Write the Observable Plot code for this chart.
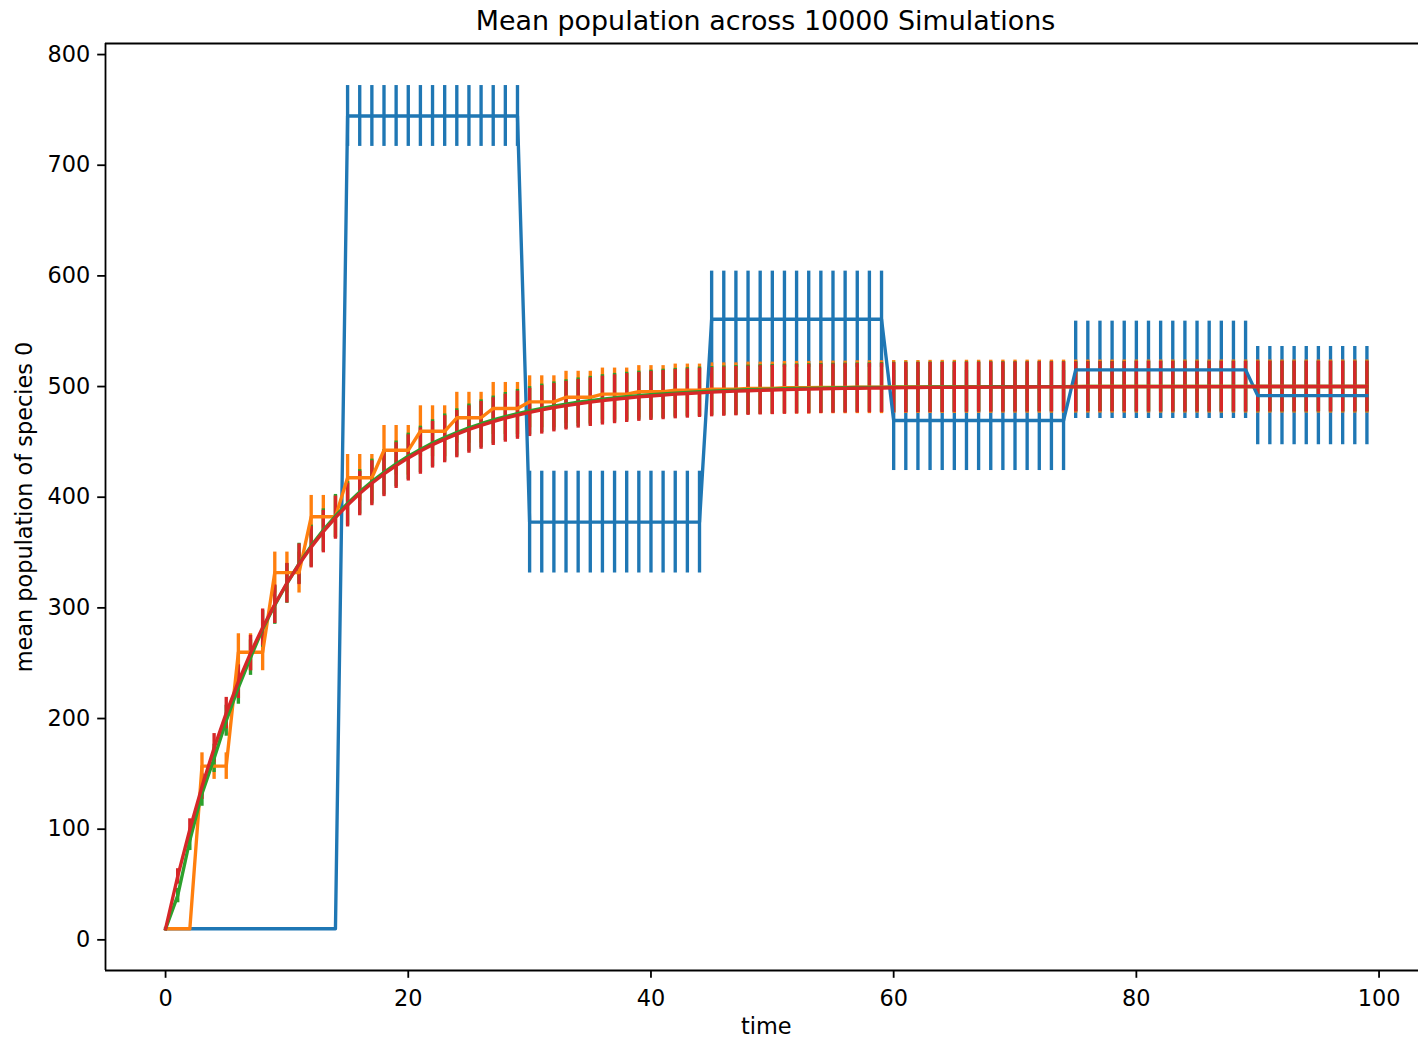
<!DOCTYPE html>
<html>
<head>
<meta charset="utf-8">
<script src="https://cdn.jsdelivr.net/npm/d3@7"></script>
<script src="https://cdn.jsdelivr.net/npm/@observablehq/plot@0.6"></script>
<style>
  body { margin: 0; background: #ffffff; font-family: "DejaVu Sans", sans-serif; }
  #title {
    width: 1321px; margin-left: 105px; height: 31.4px; padding-top: 4.6px;
    line-height: 31.4px; font-size: 26.9px; text-align: center; color: #000;
    font-family: "DejaVu Sans", sans-serif; white-space: nowrap;
  }
  #chart svg { display: block; }
</style>
</head>
<body>
<div id="title">Mean population across 10000 Simulations</div>
<div id="chart"></div>
<script>
// ---- data ----
const time = d3.range(0, 100);

const xTicks = [0, 20, 40, 60, 80, 100];
const yTicks = [0, 100, 200, 300, 400, 500, 600, 700, 800];

const blueMean = [
  10,10,10,10,10,10,10,10,10,10,10,10,10,10,10,
  744.5,744.5,744.5,744.5,744.5,744.5,744.5,744.5,744.5,744.5,744.5,744.5,744.5,744.5,744.5,
  377.5,377.5,377.5,377.5,377.5,377.5,377.5,377.5,377.5,377.5,377.5,377.5,377.5,377.5,377.5,
  560.8,560.8,560.8,560.8,560.8,560.8,560.8,560.8,560.8,560.8,560.8,560.8,560.8,560.8,560.8,
  469.3,469.3,469.3,469.3,469.3,469.3,469.3,469.3,469.3,469.3,469.3,469.3,469.3,469.3,469.3,
  515.1,515.1,515.1,515.1,515.1,515.1,515.1,515.1,515.1,515.1,515.1,515.1,515.1,515.1,515.1,
  491.8,491.8,491.8,491.8,491.8,491.8,491.8,491.8,491.8,491.8
];
const blueErr = [
  0,0,0,0,0,0,0,0,0,0,0,0,0,0,0,
  27.5,27.5,27.5,27.5,27.5,27.5,27.5,27.5,27.5,27.5,27.5,27.5,27.5,27.5,27.5,
  46,46,46,46,46,46,46,46,46,46,46,46,46,46,46,
  43.5,43.5,43.5,43.5,43.5,43.5,43.5,43.5,43.5,43.5,43.5,43.5,43.5,43.5,43.5,
  45.2,45.2,45.2,45.2,45.2,45.2,45.2,45.2,45.2,45.2,45.2,45.2,45.2,45.2,45.2,
  44,44,44,44,44,44,44,44,44,44,44,44,44,44,44,
  44.4,44.4,44.4,44.4,44.4,44.4,44.4,44.4,44.4,44.4
];

const orangeMean = [
  10,10,10, 157,157,157, 259.9,259.9,259.9, 331.9,331.9,331.9, 382.3,382.3,382.3,
  417.6,417.6,417.6, 442.4,442.4,442.4, 459.6,459.6,459.6, 471.8,471.8,471.8, 480.2,480.2,480.2,
  486.2,486.2,486.2, 490.3,490.3,490.3, 493.2,493.2,493.2, 495.3,495.3,495.3, 496.7,496.7,496.7,
  497.7,497.7,497.7, 498.4,498.4,498.4, 498.9,498.9,498.9, 499.2,499.2,499.2, 499.4,499.4,499.4,
  499.6,499.6,499.6, 499.7,499.7,499.7, 499.8,499.8,499.8, 499.9,499.9,499.9, 499.9,499.9,499.9,
  500,500,500,500,500,500,500,500,500,500,500,500,500,500,500,500,500,500,500,500,500,500,500,500,500
];
const orangeErr = [
  0,0,0, 12,12,12, 16.7,16.7,16.7, 18.5,18.5,18.5, 19.3,19.3,19.3,
  21,21,21, 22.4,22.4,22.4, 23,23,23, 23,23,23, 23.5,23.5,23.5,
  23.5,23.5,23.5, 23.5,23.5,23.5, 23.5,23.5,23.5, 23.6,23.6,23.6, 23.6,23.6,23.6,
  23.7,23.7,23.7, 23.7,23.7,23.7, 23.8,23.8,23.8, 23.8,23.8,23.8, 23.9,23.9,23.9,
  23.9,23.9,23.9, 24,24,24, 24,24,24, 24,24,24, 24,24,24,
  24,24,24,24,24,24,24,24,24,24,24,24,24,24,24,24,24,24,24,24,24,24,24,24,24
];

const greenMean = [
  10, 40, 90, 132, 164, 198, 228, 255, 281, 302.5,
  322, 340, 356, 370.3, 383, 394.4, 404.8, 414.1, 422.5, 430.1,
  437, 443.2, 448.9, 453.9, 458.5, 462.7, 466.4, 469.8, 472.9, 475.6,
  478.1, 480.3, 482.3, 484.1, 485.8, 487.2, 488.6, 489.8, 490.8, 491.8,
  492.6, 493.4, 494.1, 494.7, 495.3, 495.8, 496.3, 496.7, 497.1, 497.4,
  497.7, 498, 498.2, 498.4, 498.6, 498.8, 498.9, 499.1, 499.2, 499.3,
  499.4, 499.5, 499.5, 499.6, 499.6, 499.7, 499.7, 499.7, 499.8, 499.8,
  499.8, 499.8, 499.9, 499.9, 499.9, 499.9, 500, 500, 500, 500,
  500, 500, 500, 500, 500, 500, 500, 500, 500, 500,
  500, 500, 500, 500, 500, 500, 500, 500, 500, 500
];
const greenErr = [
  0, 6.5, 9.3, 11.3, 12.8, 14.0, 15.1, 16.0, 16.7, 17.4,
  17.9, 18.4, 18.8, 19.2, 19.5, 19.8, 20.1, 20.3, 20.5, 20.7,
  20.9, 21.0, 21.1, 21.3, 21.4, 21.5, 21.6, 21.6, 21.7, 21.8,
  21.8, 21.9, 21.9, 22.0, 22.0, 22.0, 22.1, 22.1, 22.1, 22.1,
  22.2, 22.3, 22.3, 22.3, 22.3, 22.3, 22.3, 22.3, 22.3, 22.3,
  22.3, 22.3, 22.3, 22.3, 22.3, 22.3, 22.3, 22.3, 22.3, 22.3,
  22.6, 22.6, 22.6, 22.6, 22.6, 22.6, 22.6, 22.6, 22.6, 22.6,
  22.6, 22.6, 22.6, 22.6, 22.6, 22.6, 22.6, 22.6, 22.6, 22.6,
  22.9, 22.9, 22.9, 22.9, 22.9, 22.9, 22.9, 22.9, 22.9, 22.9,
  22.9, 22.9, 22.9, 22.9, 22.9, 22.9, 22.9, 22.9, 22.9, 22.9
];

const redMean = [
  10, 57.3, 99.7, 138.5, 173.4, 204.9, 233.3, 259.1, 282.3, 303.3,
  322.3, 339.4, 354.9, 368.9, 381.5, 392.9, 403.3, 412.6, 421, 428.6,
  435.5, 441.7, 447.4, 452.4, 457, 461.2, 464.9, 468.3, 471.4, 474.1,
  476.6, 478.9, 480.9, 482.7, 484.4, 485.9, 487.3, 488.5, 489.6, 490.6,
  491.5, 492.3, 493.1, 493.7, 494.3, 494.9, 495.4, 495.8, 496.2, 496.6,
  496.9, 497.2, 497.5, 497.7, 497.9, 498.1, 498.3, 498.5, 498.6, 498.7,
  498.9, 499, 499.1, 499.2, 499.2, 499.3, 499.4, 499.4, 499.5, 499.5,
  499.6, 499.6, 499.7, 499.7, 499.7, 499.7, 499.8, 499.8, 499.8, 499.8,
  499.9, 499.9, 499.9, 499.9, 499.9, 499.9, 499.9, 499.9, 499.9, 499.9,
  500, 500, 500, 500, 500, 500, 500, 500, 500, 500
];
const redErr = [
  0, 7.0, 9.7, 11.5, 13.0, 14.2, 15.2, 16.0, 16.7, 17.4,
  17.9, 18.4, 18.8, 19.2, 19.5, 19.8, 20.1, 20.3, 20.5, 20.7,
  20.9, 21.0, 21.1, 21.3, 21.4, 21.5, 21.6, 21.6, 21.7, 21.8,
  21.8, 21.9, 21.9, 22.0, 22.0, 22.0, 22.1, 22.1, 22.1, 22.1,
  22.2, 22.3, 22.3, 22.3, 22.3, 22.3, 22.3, 22.3, 22.3, 22.3,
  22.3, 22.3, 22.3, 22.3, 22.3, 22.3, 22.3, 22.3, 22.3, 22.3,
  22.6, 22.6, 22.6, 22.6, 22.6, 22.6, 22.6, 22.6, 22.6, 22.6,
  22.6, 22.6, 22.6, 22.6, 22.6, 22.6, 22.6, 22.6, 22.6, 22.6,
  22.9, 22.9, 22.9, 22.9, 22.9, 22.9, 22.9, 22.9, 22.9, 22.9,
  22.9, 22.9, 22.9, 22.9, 22.9, 22.9, 22.9, 22.9, 22.9, 22.9
];

const seriesNames = ["blue", "orange", "green", "red"];
const seriesColors = ["#1f77b4", "#ff7f0e", "#2ca02c", "#d62728"];
const seriesMeans = [blueMean, orangeMean, greenMean, redMean];
const seriesErrs = [blueErr, orangeErr, greenErr, redErr];

// ---- build table ----
const rows = seriesNames.flatMap((s, si) =>
  time.map((t, i) => ({series: s, t, mean: seriesMeans[si][i], err: seriesErrs[si][i]}))
);

const xDomain = [-4.95, 103.25];
const yDomain = [-27.7, 810];
const LW = 3.36;
const FS = 22.4;

const errMarks = seriesNames.map((s, si) =>
  Plot.ruleX(rows.filter(d => d.series === s && d.err > 0), {
    x: "t", y1: d => d.mean - d.err, y2: d => d.mean + d.err,
    stroke: seriesColors[si], strokeWidth: LW
  })
);
const lineMarks = seriesNames.map((s, si) =>
  Plot.line(rows.filter(d => d.series === s), {
    x: "t", y: "mean", stroke: seriesColors[si], strokeWidth: LW,
    strokeLinejoin: "round", strokeLinecap: "square"
  })
);

const chart = Plot.plot({
  width: 1418,
  height: 1005,
  marginTop: 7,
  marginBottom: 71,
  marginLeft: 105,
  marginRight: 0,
  style: {fontFamily: "DejaVu Sans, sans-serif", fontSize: FS + "px", background: "#ffffff", color: "#000"},
  x: {domain: xDomain, label: null},
  y: {domain: yDomain, label: null},
  marks: [
    ...errMarks,
    ...lineMarks,
    Plot.ruleX([xDomain[0]], {stroke: "#000", strokeWidth: 1.8}),
    Plot.ruleY([yDomain[0]], {stroke: "#000", strokeWidth: 1.8}),
    Plot.ruleY([yDomain[1]], {stroke: "#000", strokeWidth: 1.8}),
    Plot.axisX({ticks: xTicks, tickSize: 7.8, tickPadding: 12, strokeWidth: 1.8, fontSize: FS, label: null, tickFormat: d => String(d)}),
    Plot.axisY({ticks: yTicks, tickSize: 7.8, tickPadding: 7.4, strokeWidth: 1.8, fontSize: FS, label: null, tickFormat: d => String(d)}),
    Plot.text(["time"], {frameAnchor: "bottom", lineAnchor: "top", textAnchor: "middle", dx: 4.2, dy: 48, fontSize: FS, fill: "#000"}),
    Plot.text(["mean population of species 0"], {frameAnchor: "left", textAnchor: "middle", lineAnchor: "middle", rotate: -90, dx: -80.5, fontSize: FS, fill: "#000"})
  ]
});
document.getElementById("chart").appendChild(chart);
</script>
</body>
</html>
